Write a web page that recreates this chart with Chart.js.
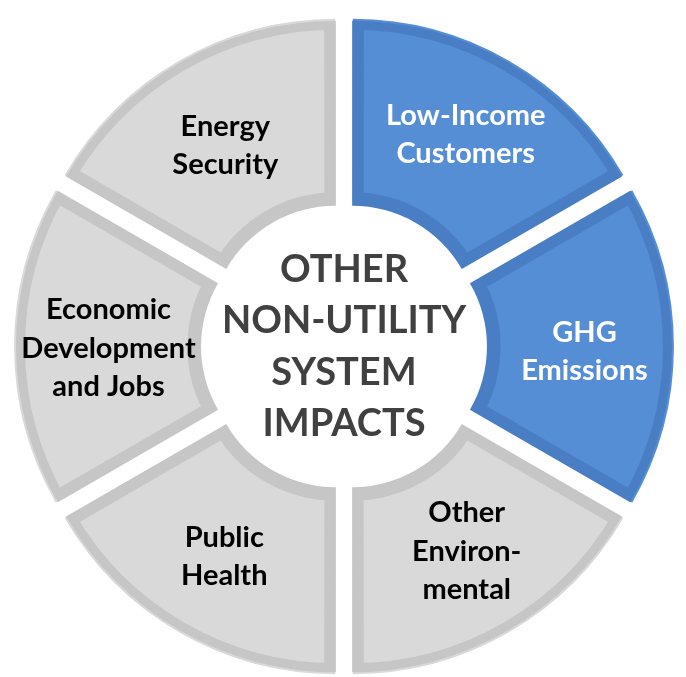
<!DOCTYPE html>
<html>
<head>
<meta charset="utf-8">
<script src="https://cdn.jsdelivr.net/npm/chart.js@4.4.1/dist/chart.umd.min.js"></script>
<style>
  html, body { margin: 0; padding: 0; background: #fff; }
  #wrap { width: 686px; height: 677px; position: relative; }
</style>
</head>
<body>
<div id="wrap"><canvas id="impactCanvas"></canvas></div>
<script>
// segments, clockwise from 12 o'clock
var categories = [
    ['Low-Income', 'Customers'],
    ['GHG', 'Emissions'],
    ['Other', 'Environ-', 'mental'],
    ['Public', 'Health'],
    ['Economic', 'Development', 'and Jobs'],
    ['Energy', 'Security']
];
var segmentValues = [1, 1, 1, 1, 1, 1];
var highlighted = [true, true, false, false, false, false];
var centerTitle = ['OTHER', 'NON-UTILITY', 'SYSTEM', 'IMPACTS'];

var FONT = 'Lato, "Open Sans", sans-serif';
var explode = 17; // px each slice is pushed out
// small hand nudges so labels sit like the original slide
var labelNudge = [[4, -8], [5, 5], [5, 1], [-2, 6], [0, 2], [-1, 3]];

var fills = highlighted.map(function (h) { return h ? '#558ED5' : '#D9D9D9'; });
var borders = highlighted.map(function (h) { return h ? '#4A7EC4' : '#C6C6C6'; });
var textColors = highlighted.map(function (h) { return h ? '#FFFFFF' : '#000000'; });

var labelPlugin = {
    id: 'sliceLabels',
    afterDatasetsDraw: function (chart) {
        var ctx = chart.ctx;
        var arcs = chart.getDatasetMeta(0).data;
        ctx.save();
        ctx.textAlign = 'center';
        ctx.textBaseline = 'middle';
        ctx.font = 'bold 29px ' + FONT;
        arcs.forEach(function (arc, i) {
            var p = arc.getProps(['x', 'y', 'startAngle', 'endAngle', 'innerRadius', 'outerRadius'], true);
            var mid = (p.startAngle + p.endAngle) / 2;
            var r = (p.innerRadius + p.outerRadius) / 2 + explode;
            var cx = p.x + Math.cos(mid) * r + labelNudge[i][0];
            var cy = p.y + Math.sin(mid) * r + labelNudge[i][1];
            var lines = categories[i];
            var lh = 38.5;
            ctx.fillStyle = textColors[i];
            lines.forEach(function (t, k) {
                ctx.fillText(t, cx, cy + (k - (lines.length - 1) / 2) * lh);
            });
        });
        // center title
        var a = arcs[0];
        ctx.fillStyle = '#404040';
        ctx.font = 'bold 38px ' + FONT;
        centerTitle.forEach(function (t, k) {
            ctx.fillText(t, a.x, a.y + (k - (centerTitle.length - 1) / 2) * 51.5);
        });
        ctx.restore();
    }
};

var ctx = document.getElementById('impactCanvas').getContext('2d');
var impactChart = new Chart(ctx, {
    type: 'doughnut',
    data: {
        labels: categories.map(function (c) { return c.join(' '); }),
        datasets: [{
            data: segmentValues,
            backgroundColor: fills,
            borderColor: borders,
            borderWidth: 11,
            borderAlign: 'inner',
            borderJoinStyle: 'miter',
            offset: explode * 4,
            hoverOffset: explode * 4
        }]
    },
    options: {
        responsive: true,
        maintainAspectRatio: false,
        animation: false,
        radius: 311,
        cutout: '40.5%',
        layout: { padding: { left: 2, top: 16 } },
        events: [],
        plugins: {
            legend: { display: false },
            tooltip: { enabled: false }
        }
    },
    plugins: [labelPlugin]
});
</script>
</body>
</html>
